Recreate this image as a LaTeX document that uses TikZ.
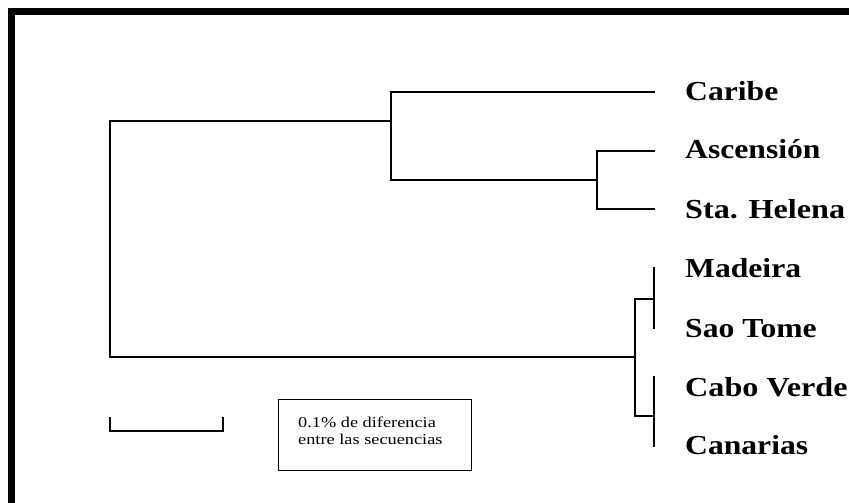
\documentclass[tikz,border=0pt]{standalone}
\usepackage{fontspec}
\setmainfont{Liberation Serif}
\begin{document}
\begin{tikzpicture}[x=1pt,y=-1pt,
  branch/.style={line width=1.8pt, line cap=rect},
  taxon/.style={anchor=base west, inner sep=0pt, font=\bfseries\fontsize{27.5}{30}\selectfont},
  legendbox/.style={draw, line width=1.4pt, minimum width=193pt, minimum height=71pt, anchor=north west, inner sep=0pt},
  legendtext/.style={anchor=base west, inner sep=0pt, align=left, font=\fontsize{15}{17}\selectfont}
]
\useasboundingbox (0,0) rectangle (849,503);
% outer frame
\draw[line width=6.6pt] (11.7,530) -- (11.7,11.7) -- (880,11.7);

% tree coordinates
\coordinate (rootT) at (110,121);
\coordinate (rootB) at (110,357);
\coordinate (nA) at (391,121);
\coordinate (nAt) at (391,91.7);
\coordinate (nAb) at (391,180.3);
\coordinate (nC) at (597,180.3);
\coordinate (nCt) at (597,150.7);
\coordinate (nCb) at (597,209.3);
\coordinate (nB) at (635,357);
\coordinate (nBt) at (635,299);
\coordinate (nBb) at (635,416);
\coordinate (nD) at (654,299);
\coordinate (nE) at (654,416);
% leaf tips
\coordinate (tCaribe) at (654,91.7);
\coordinate (tAsc) at (654,150.7);
\coordinate (tSta) at (654,209.3);
\coordinate (tMad) at (654,268.3);
\coordinate (tSao) at (654,328.3);
\coordinate (tCabo) at (654,376.7);
\coordinate (tCan) at (654,446);

% branches
\draw[branch] (rootB) -- (rootT) -- (nA);
\draw[branch] (nAt) -- (nAb);
\draw[branch] (nAt) -- (tCaribe);
\draw[branch] (nAb) -- (nC);
\draw[branch] (nCt) -- (nCb);
\draw[branch] (nCt) -- (tAsc);
\draw[branch] (nCb) -- (tSta);
\draw[branch] (rootB) -- (nB);
\draw[branch] (nBt) -- (nBb);
\draw[branch] (nBt) -- (nD);
\draw[branch] (nBb) -- (nE);
\draw[branch] (tMad) -- (tSao);
\draw[branch] (tCabo) -- (tCan);

% labels
\node[taxon] (lCaribe) at (685,100) {\scalebox{1.15}[1]{Caribe}};
\node[taxon] (lAsc) at (685,158.5) {\scalebox{1.15}[1]{Ascensión}};
\node[taxon] (lSta) at (685,218) {\scalebox{1.17}[1]{Sta. Helena}};
\node[taxon] (lMad) at (685,277) {\scalebox{1.15}[1]{Madeira}};
\node[taxon] (lSao) at (685,337) {\scalebox{1.15}[1]{Sao Tome}};
\node[taxon] (lCabo) at (685,396) {\scalebox{1.17}[1]{Cabo Verde}};
\node[taxon] (lCan) at (685,454) {\scalebox{1.15}[1]{Canarias}};

% scale bar
\coordinate (sL) at (110,416.7);
\coordinate (sR) at (222.7,416.7);
\draw[line width=1.8pt] (sL) -- ++(0,14) -| (sR);

% legend
\node[legendbox] (legend) at (278,399) {};
\node[legendtext] (legendtxt) at (298,444) {\scalebox{1.22}[1]{0.1\% de diferencia}\\\scalebox{1.22}[1]{entre las secuencias}};
\end{tikzpicture}
\end{document}
